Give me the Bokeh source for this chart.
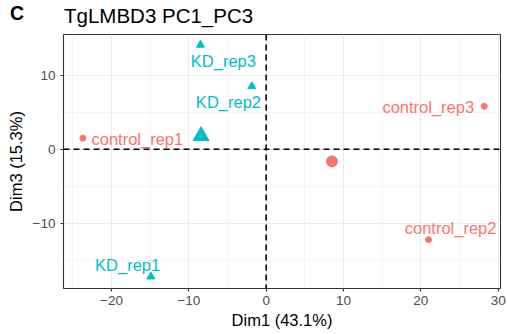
from bokeh.plotting import figure
from bokeh.models import Range1d, Span, ColumnDataSource, FixedTicker, Div
from bokeh.layouts import column
from bokeh.core.properties import value
from bokeh.embed import file_html
from bokeh.resources import INLINE

# ---- data ----
samples = ["control_rep1", "control_rep2", "control_rep3", "KD_rep1", "KD_rep2", "KD_rep3"]
groups = ["control", "control", "control", "KD", "KD", "KD"]
dim1 = [-23.7, 21.0, 28.2, -14.9, -1.85, -8.5]
dim3 = [1.5, -12.2, 5.8, -17.2, 8.5, 14.1]
group_names = ["control", "KD"]
group_colors = ["#F8766D", "#00BFC4"]
group_markers = ["circle", "triangle"]
x_ticks = [-20, -10, 0, 10, 20, 30]
y_ticks = [-10, 0, 10]
x_limits = [-26.2, 30.3]
y_limits = [-18.8, 15.5]
title_text = "TgLMBD3 PC1_PC3"
panel_tag = "C"
x_title = "Dim1 (43.1%)"
y_title = "Dim3 (15.3%)"

# label offsets in pixels (repelled label placement)
label_dx = [54.5, 22.0, -56.0, -23.3, -23.4, 23.0]
label_dy = [1.0, -11.7, 0.5, -11.7, 15.3, 15.7]

FONT = "Liberation Sans"

p = figure(width=507, height=300, output_backend="svg", toolbar_location=None,
           x_range=Range1d(*x_limits), y_range=Range1d(*y_limits),
           min_border_left=63, min_border_right=7, min_border_top=0, min_border_bottom=46,
           margin=0)
p.background_fill_color = "white"
p.border_fill_color = "white"
p.outline_line_color = "#333333"
p.outline_line_width = 1.1

# grids
for g in (p.xgrid[0], p.ygrid[0]):
    g.grid_line_color = "#EBEBEB"
    g.grid_line_width = 1.1
    g.minor_grid_line_color = "#EBEBEB"
    g.minor_grid_line_width = 0.55

p.xaxis.ticker = FixedTicker(ticks=x_ticks, minor_ticks=[t + 5 for t in x_ticks] + [x_ticks[0] - 5])
p.yaxis.ticker = FixedTicker(ticks=y_ticks, minor_ticks=[t + 5 for t in y_ticks] + [y_ticks[0] - 5])

for ax in (p.xaxis[0], p.yaxis[0]):
    ax.axis_line_color = None
    ax.major_tick_line_color = "#333333"
    ax.major_tick_line_width = 1.1
    ax.major_tick_out = 3
    ax.major_tick_in = 0
    ax.minor_tick_line_color = None
    ax.major_label_text_font = FONT
    ax.major_label_text_font_size = "13.5px"
    ax.major_label_text_color = "#4D4D4D"
    ax.axis_label_text_font = FONT
    ax.axis_label_text_font_size = "16.5px"
    ax.axis_label_text_font_style = "normal"
    ax.axis_label_text_color = "black"

p.xaxis.axis_label = x_title
p.yaxis.axis_label = y_title
p.xaxis.major_label_standoff = 3
p.yaxis.major_label_standoff = 4
p.xaxis.axis_label_standoff = 3
p.yaxis.axis_label_standoff = 5
p.xaxis.major_label_overrides = {t: str(t).replace("-", "\u2212") for t in x_ticks}
p.yaxis.major_label_overrides = {t: str(t).replace("-", "\u2212") for t in y_ticks}

# reference lines
p.add_layout(Span(location=0, dimension="height", line_color="black", line_dash="6 4", line_width=1.6))
p.add_layout(Span(location=0, dimension="width", line_color="black", line_dash="6 4", line_width=1.6))

# points, centroids, labels
for gname, col, mk in zip(group_names, group_colors, group_markers):
    idx = [i for i, g in enumerate(groups) if g == gname]
    xs = [dim1[i] for i in idx]
    ys = [dim3[i] for i in idx]
    src = ColumnDataSource(dict(x=xs, y=ys, name=[samples[i] for i in idx],
                                dx=[label_dx[i] for i in idx], dy=[label_dy[i] for i in idx]))
    small = 6 if mk == "circle" else 8
    big = 11 if mk == "circle" else 16
    p.scatter("x", "y", source=src, marker=mk, size=small, fill_color=col, line_color=col)
    cx = sum(xs) / len(xs)
    cy = sum(ys) / len(ys)
    p.scatter([cx], [cy], marker=mk, size=big, fill_color=col, line_color=col)
    p.text("x", "y", text="name", source=src, x_offset="dx", y_offset="dy",
           text_align="center", text_baseline="middle", text_color=col,
           text_font=value(FONT), text_font_size="16.5px")

# title + panel tag
head = Div(width=507, height=34, margin=0, text=(
    '<div style="position:relative;width:507px;height:34px;font-family:\'Liberation Sans\';'
    'color:black;line-height:normal;">'
    f'<span style="position:absolute;left:10px;top:2.2px;font-size:19.5px;font-weight:bold;">{panel_tag}</span>'
    f'<span style="position:absolute;left:64px;top:4.3px;font-size:20.5px;">{title_text}</span></div>'))

layout = column(head, p, spacing=0, margin=0)
open("out.html", "w").write(file_html(layout, INLINE))
